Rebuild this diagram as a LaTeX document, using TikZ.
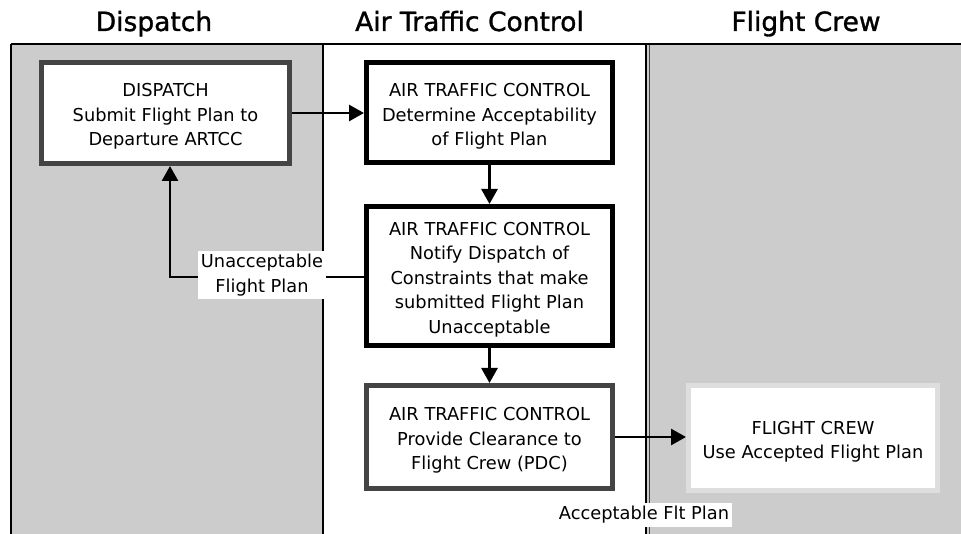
\documentclass[tikz,border=0pt]{standalone}
\usepackage{fontspec}
\setmainfont{DejaVu Sans}
\newfontfamily\headfont{DejaVu Sans}[FakeBold=1.2]
\usetikzlibrary{arrows.meta}
\definecolor{lanegray}{HTML}{CCCCCC}
\definecolor{darkedge}{HTML}{444444}
\definecolor{paleedge}{HTML}{DEDEDE}
% extra room above the first line of a task box, so its text sits a little low
\newcommand{\taskstrut}{\rule{0pt}{20.5pt}}
\begin{document}
\begin{tikzpicture}[x=1pt,y=-1pt,
  lanehead/.style={font=\headfont\fontsize{26.5}{30}\selectfont, anchor=base},
  task/.style={draw, line width=5pt, fill=white, align=center,
    font=\fontsize{17.8}{24.5}\selectfont, inner sep=0pt},
  flowlabel/.style={fill=white, align=center,
    font=\fontsize{17.8}{24.5}\selectfont, inner sep=3pt},
  arr/.style={line width=2.8pt, -{Triangle[length=15pt,width=16pt]}},
  laneline/.style={line width=2.8pt}]
\useasboundingbox (0,0) rectangle (961,534);

% swimlane backgrounds
\fill[lanegray] (11,44) rectangle (323,534);
\fill[white] (323,44) rectangle (646,534);
\fill[lanegray] (646,44) rectangle (961,534);

% swimlane borders
\draw[laneline] (11,44) -- (961,44);
\draw[laneline] (11,44) -- (11,534);
\draw[laneline] (323,44) -- (323,534);
\draw[laneline] (646,44) -- (646,534);
\draw[line width=1.2pt, darkedge] (649.5,45) -- (649.5,534);

% lane headings
\node[lanehead] (hdisp) at (154,31) {Dispatch};
\node[lanehead] (hatc) at (469.5,31) {Air Traffic Control};
\node[lanehead] (hcrew) at (806,31) {Flight Crew};

% tasks
\node[task, draw=darkedge, minimum width=248pt, minimum height=101pt]
  (disp) at (165.5,113) {\taskstrut DISPATCH\\Submit Flight Plan to\\Departure ARTCC};
\node[task, minimum width=246pt, minimum height=100pt]
  (atca) at (489.5,113) {\taskstrut AIR TRAFFIC CONTROL\\Determine Acceptability\\of Flight Plan};
\node[task, minimum width=246pt, minimum height=139pt]
  (atcb) at (489.5,276) {\taskstrut AIR TRAFFIC CONTROL\\Notify Dispatch of\\Constraints that make\\submitted Flight Plan\\Unacceptable};
\node[task, draw=darkedge, minimum width=246pt, minimum height=103pt]
  (atcc) at (489.5,437) {\taskstrut AIR TRAFFIC CONTROL\\Provide Clearance to\\Flight Crew (PDC)};
\node[task, draw=paleedge, minimum width=249pt, minimum height=105pt]
  (crew) at (813,438) {\taskstrut FLIGHT CREW\\Use Accepted Flight Plan};

% connectors
\coordinate (bend) at (170,277);
\draw[arr] (disp.east |- 0,113) -- (atca.west |- 0,113);
\draw[arr] (atca.south) -- (atcb.north);
\draw[arr] (atcb.south) -- (atcc.north);
\draw[arr] (atcb.west |- bend) -- (bend) -- (bend |- disp.south);
\draw[arr] (atcc.east |- 0,437) -- (crew.west |- 0,437);

% connector labels
\node[flowlabel] (lunacc) at (262,275) {Unacceptable\\Flight Plan};
\node[flowlabel] (lacc) at (644,515) {Acceptable Flt Plan};
\end{tikzpicture}
\end{document}
